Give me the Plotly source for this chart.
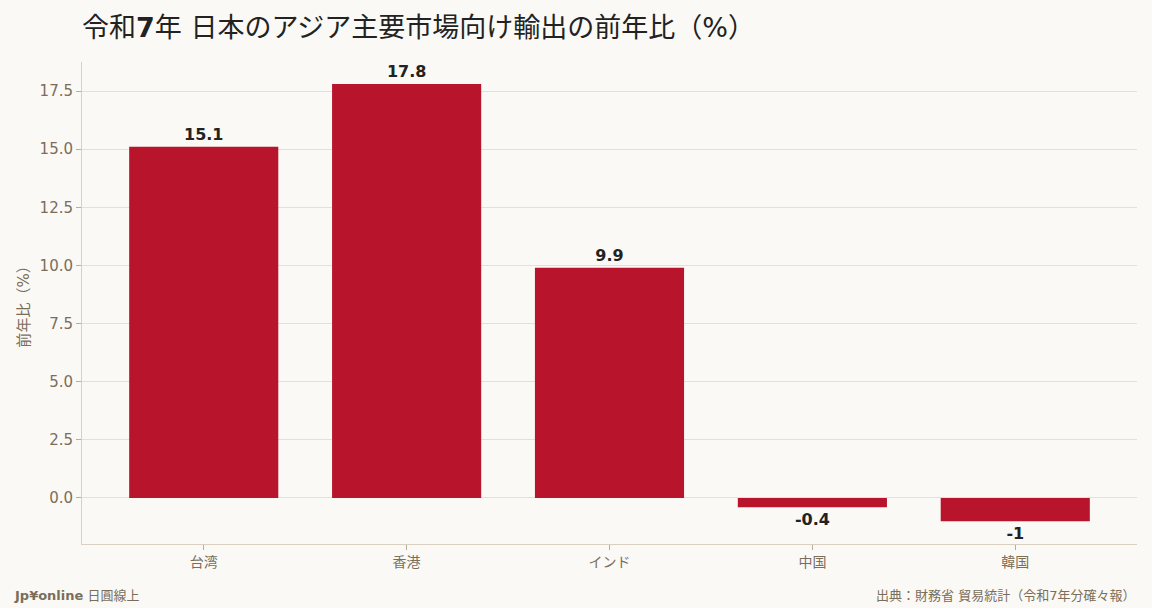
import plotly.graph_objects as go

# data
markets = ["台湾", "香港", "インド", "中国", "韓国"]
yoy_pct = [15.1, 17.8, 9.9, -0.4, -1]
value_labels = ["15.1", "17.8", "9.9", "-0.4", "-1"]

# colors
bg_color = "#FAF9F5"
bar_color = "#B8152C"
tick_color = "#7A6E5A"
cjk = "DejaVu Sans, Noto Sans CJK JP"

fig = go.Figure(go.Bar(
    x=markets,
    y=yoy_pct,
    text=value_labels,
    textposition="outside",
    textfont=dict(family="DejaVu Sans", size=16, color="#222222", weight="bold"),
    marker=dict(color=bar_color, line=dict(width=0)),
    cliponaxis=False,
    hoverinfo="x+y",
))

fig.update_layout(
    title=dict(
        text="令和<b>7</b>年 日本のアジア主要市場向け輸出の前年比（%）",
        x=82 / 1152, xanchor="left",
        y=1 - 28 / 608, yanchor="middle",
        font=dict(family=cjk, size=27, color="#222222"),
    ),
    width=1152, height=608,
    margin=dict(l=82, r=15, t=62, b=64),
    paper_bgcolor=bg_color,
    plot_bgcolor=bg_color,
    bargap=0.265,
    showlegend=False,
    font=dict(family=cjk, color=tick_color),
    xaxis=dict(
        range=[-0.6, 4.6],
        showline=True, linecolor="#D9D0C1", linewidth=1,
        ticks="outside", ticklen=5, tickcolor="#B8AE9C",
        tickfont=dict(family=cjk, size=14, color=tick_color),
        showgrid=False,
        layer="above traces",
    ),
    yaxis=dict(
        range=[-1.98, 18.75],
        dtick=2.5, tickformat=".1f",
        showline=True, linecolor="#D9D0C1", linewidth=1,
        ticks="outside", ticklen=5, tickcolor="#B8AE9C",
        tickfont=dict(family="DejaVu Sans", size=15, color=tick_color),
        showgrid=True, gridcolor="#E5E0D5", gridwidth=1,
        zeroline=False,
        title=dict(text="前年比（%）", standoff=6,
                   font=dict(family=cjk, size=15, color=tick_color)),
        layer="above traces",
    ),
    annotations=[
        dict(text="<b>Jp¥online</b> 日圓線上", xref="paper", yref="paper",
             x=-70 / 1055, y=-51 / 482, xanchor="left", yanchor="middle",
             showarrow=False,
             font=dict(family=cjk, size=13, color=tick_color)),
        dict(text="出典：財務省 貿易統計（令和7年分確々報）", xref="paper", yref="paper",
             x=1, y=-51 / 482, xanchor="right", yanchor="middle",
             showarrow=False,
             font=dict(family=cjk, size=13, color=tick_color)),
    ],
)

fig.write_html(
    "out.html",
    config={"displayModeBar": False},
    post_script="document.body.style.margin='0';document.body.style.background='" + bg_color + "';",
)
